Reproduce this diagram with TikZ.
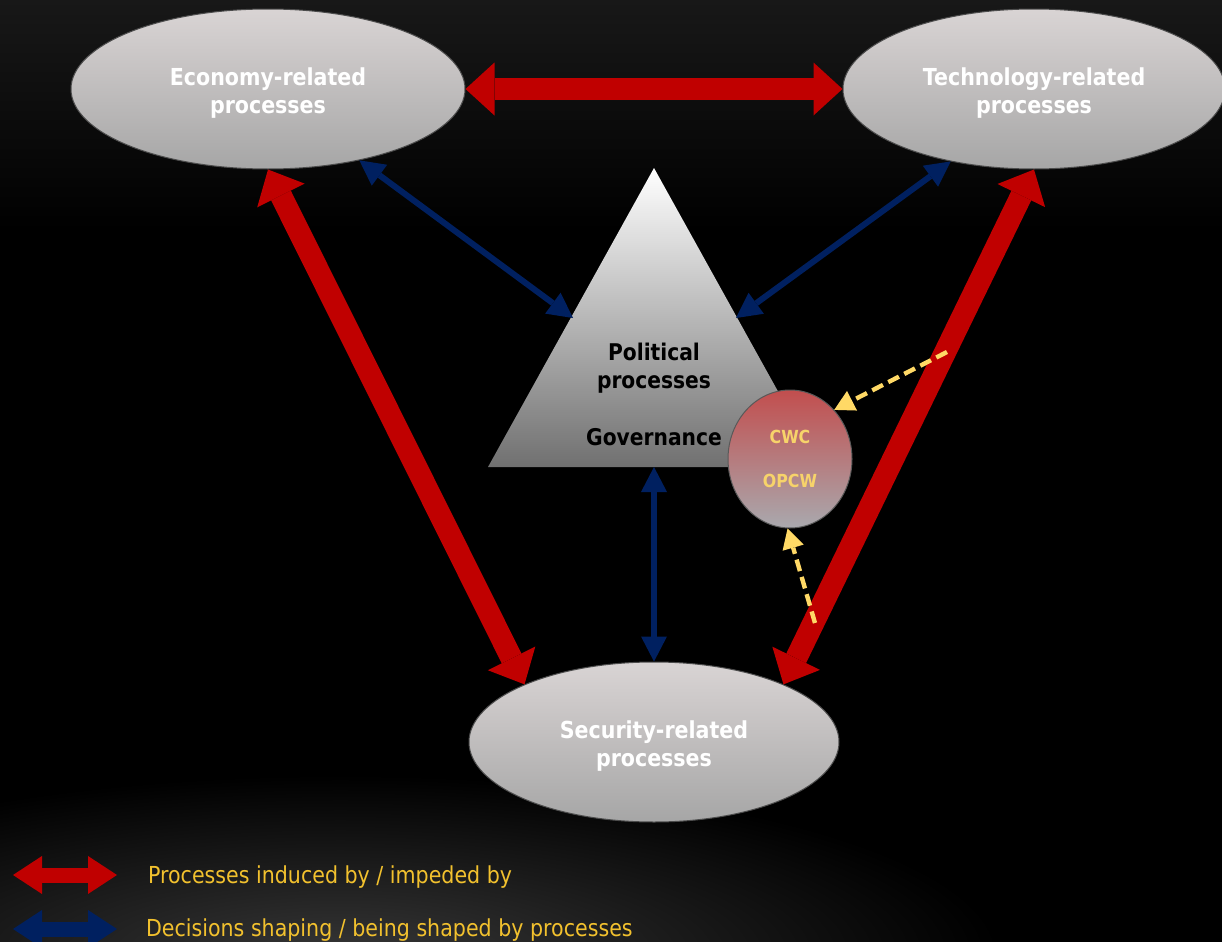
\documentclass[tikz,border=0pt]{standalone}
\usepackage{fontspec}
\usetikzlibrary{shapes.geometric,arrows.meta}
\newfontfamily\tah{DejaVu Sans}[FakeStretch=0.88]
\definecolor{redA}{HTML}{C00000}
\definecolor{blueA}{HTML}{002060}
\definecolor{yelA}{HTML}{FFD966}
\definecolor{legtxt}{HTML}{F2C12E}
\definecolor{ellTop}{HTML}{D9D4D4}
\definecolor{ellBot}{HTML}{A6A6A6}
\definecolor{cwcTop}{HTML}{C24E4E}
\definecolor{cwcBot}{HTML}{A9A9AE}
\definecolor{cwcTxt}{HTML}{F7D36A}
\definecolor{bgTop}{HTML}{181818}
\definecolor{glow}{HTML}{363636}
\begin{document}
\begin{tikzpicture}[x=0.5pt,y=-0.5pt,
  procell/.style={ellipse, inner sep=0pt, minimum width=197pt, minimum height=80pt,
    top color=ellTop, bottom color=ellBot, draw=gray!60!black, line width=0.5pt},
  proclabel/.style={text=white, align=center, yshift=-2pt,
    font=\tah\bfseries\fontsize{11.7}{14}\selectfont},
  cwcnode/.style={ellipse, inner sep=0pt, minimum width=62pt, minimum height=69pt,
    top color=cwcTop, bottom color=cwcBot, draw=gray!70!black, line width=0.5pt,
    text=cwcTxt, align=center, font=\tah\bfseries\fontsize{9}{22}\selectfont},
  poltext/.style={text=black, align=center, font=\tah\bfseries\fontsize{11.5}{14}\selectfont},
  legtext/.style={anchor=west, text=legtxt, font=\tah\fontsize{11.7}{14}\selectfont},
  redarr/.style={draw=redA, line width=11pt,
    {Triangle[length=14.5pt,width=26.5pt,line width=0pt]}-{Triangle[length=14.5pt,width=26.5pt,line width=0pt]}},
  bluearr/.style={draw=blueA, line width=3pt,
    {Triangle[length=12.5pt,width=13pt,line width=0pt]}-{Triangle[length=12.5pt,width=13pt,line width=0pt]}},
  yelarr/.style={draw=yelA, line width=2.2pt, dash pattern=on 6pt off 3pt,
    -{Triangle[length=10pt,width=11pt,line width=0pt]}},
  legred/.style={draw=redA, line width=7.5pt,
    {Triangle[length=14.5pt,width=19pt,line width=0pt]}-{Triangle[length=14.5pt,width=19pt,line width=0pt]}},
  legblue/.style={draw=blueA, line width=7.5pt,
    {Triangle[length=14.5pt,width=19pt,line width=0pt]}-{Triangle[length=14.5pt,width=19pt,line width=0pt]}}
]
\useasboundingbox (0,0) rectangle (1222,942);
\clip (0,0) rectangle (1222,942);
% background
\fill[black] (0,0) rectangle (1222,942);
\shade[top color=bgTop, bottom color=black] (0,0) rectangle (1222,230);
\shade[inner color=glow, outer color=black] (340,955) ellipse [x radius=330pt, y radius=90pt];

% process ellipses
\node[procell, label={[proclabel]center:{Economy-related\\processes}}] (eco) at (268,89) {};
\node[procell, minimum width=191pt, label={[proclabel]center:{Technology-related\\processes}}] (tech) at (1034,89) {};
\node[procell, minimum width=185pt, label={[proclabel]center:{Security-related\\processes}}] (sec) at (654,742) {};

% political triangle
\shade[top color=white, bottom color=black!56!white]
  (654,168) -- (820,467) -- (488,467) -- cycle;
\coordinate (triL) at (573,318);
\coordinate (triR) at (736,318);
\coordinate (triB) at (654,467);
\node[poltext] (pol) at (654,368) {Political\\processes};
\node[poltext] (gov) at (654,437) {Governance};

% CWC / OPCW
\node[cwcnode] (cwc) at (790,459) {CWC\\OPCW};

% red arrows
\draw[redarr] (eco.east) -- (tech.west);
\draw[redarr] (eco.south) -- (sec.156);
\draw[redarr] (tech.south) -- (sec.24.6);

% blue arrows
\draw[bluearr] (eco.-38.9) -- (triL);
\draw[bluearr] (tech.-139.4) -- (triR);
\draw[bluearr] (triB) -- (sec.north);

% yellow dashed arrows
\coordinate (y1) at (947,352);
\coordinate (y2) at (815,623);
\draw[yelarr] (y1) -- (cwc.48.8);
\draw[yelarr] (y2) -- (cwc.-92);

% legend
\coordinate (lr1) at (13,875);
\coordinate (lr2) at (117,875);
\coordinate (lb1) at (13,929);
\coordinate (lb2) at (117,929);
\draw[legred] (lr1) -- (lr2);
\draw[legblue] (lb1) -- (lb2);
\node[legtext] (leg1) at (141,877) {Processes induced by / impeded by};
\node[legtext] (leg2) at (139,930) {Decisions shaping / being shaped by processes};
\end{tikzpicture}
\end{document}
